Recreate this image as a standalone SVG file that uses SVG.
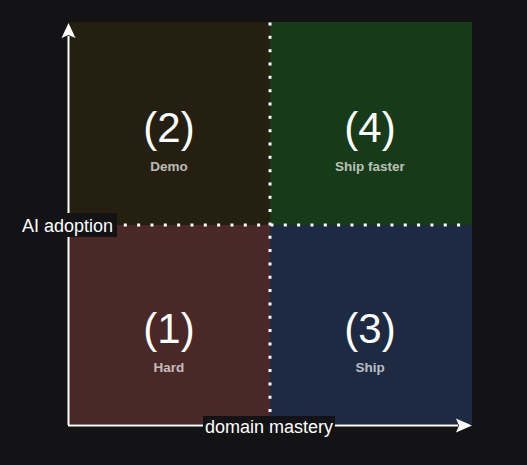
<svg xmlns="http://www.w3.org/2000/svg" width="527" height="465" viewBox="0 0 527 465">
<defs>
<style>
.num{font-family:"Liberation Sans",Arial,sans-serif;font-size:42px;fill:#ffffff;text-anchor:middle}
.lbl{font-family:"Liberation Sans",Arial,sans-serif;font-size:13.5px;font-weight:bold;fill:#ffffff;fill-opacity:0.7;text-anchor:middle}
.ax{font-family:"Liberation Sans",Arial,sans-serif;font-size:18px;fill:#ffffff}
.dot{stroke:#ffffff;stroke-width:3;stroke-dasharray:3 10.33;fill:none}
.axis{stroke:#ffffff;stroke-width:2;fill:none}
</style>
</defs>
<rect x="0" y="0" width="527" height="465" fill="#131315"/>
<g id="q2"><rect x="69" y="22" width="201" height="203" fill="#241f10"/><text class="num" x="169" y="142">(2)</text><text class="lbl" x="169" y="171">Demo</text></g>
<g id="q4"><rect x="270" y="22" width="202" height="203" fill="#173a18"/><text class="num" x="370" y="142">(4)</text><text class="lbl" x="370" y="171">Ship faster</text></g>
<g id="q1"><rect x="69" y="225" width="201" height="199" fill="#4a2828"/><text class="num" x="169" y="343">(1)</text><text class="lbl" x="169" y="372">Hard</text></g>
<g id="q3"><rect x="270" y="225" width="202" height="199" fill="#1d2a42"/><text class="num" x="370" y="343">(3)</text><text class="lbl" x="370" y="372">Ship</text></g>
<g id="connectors">
<line class="dot" x1="270" y1="22.5" x2="270" y2="416"/>
<line class="dot" x1="69" y1="225" x2="462" y2="225" style="stroke-dashoffset:-1.5"/>
<line class="axis" x1="68.5" y1="425" x2="68.5" y2="36"/>
<polygon points="68.5,23 61.5,38 68.5,35 75.5,38" fill="#ffffff"/>
<line class="axis" x1="68" y1="425.5" x2="458" y2="425.5"/>
<polygon points="472,425.5 456,418.5 459,425.5 456,432.5" fill="#ffffff"/>
</g>
<g id="label-y"><rect x="20" y="213" width="97" height="24" fill="#131315"/><text class="ax" x="22" y="232">AI adoption</text></g>
<g id="label-x"><rect x="203" y="416" width="132" height="21" fill="#131315"/><text class="ax" x="205" y="432.5">domain mastery</text></g>
</svg>
